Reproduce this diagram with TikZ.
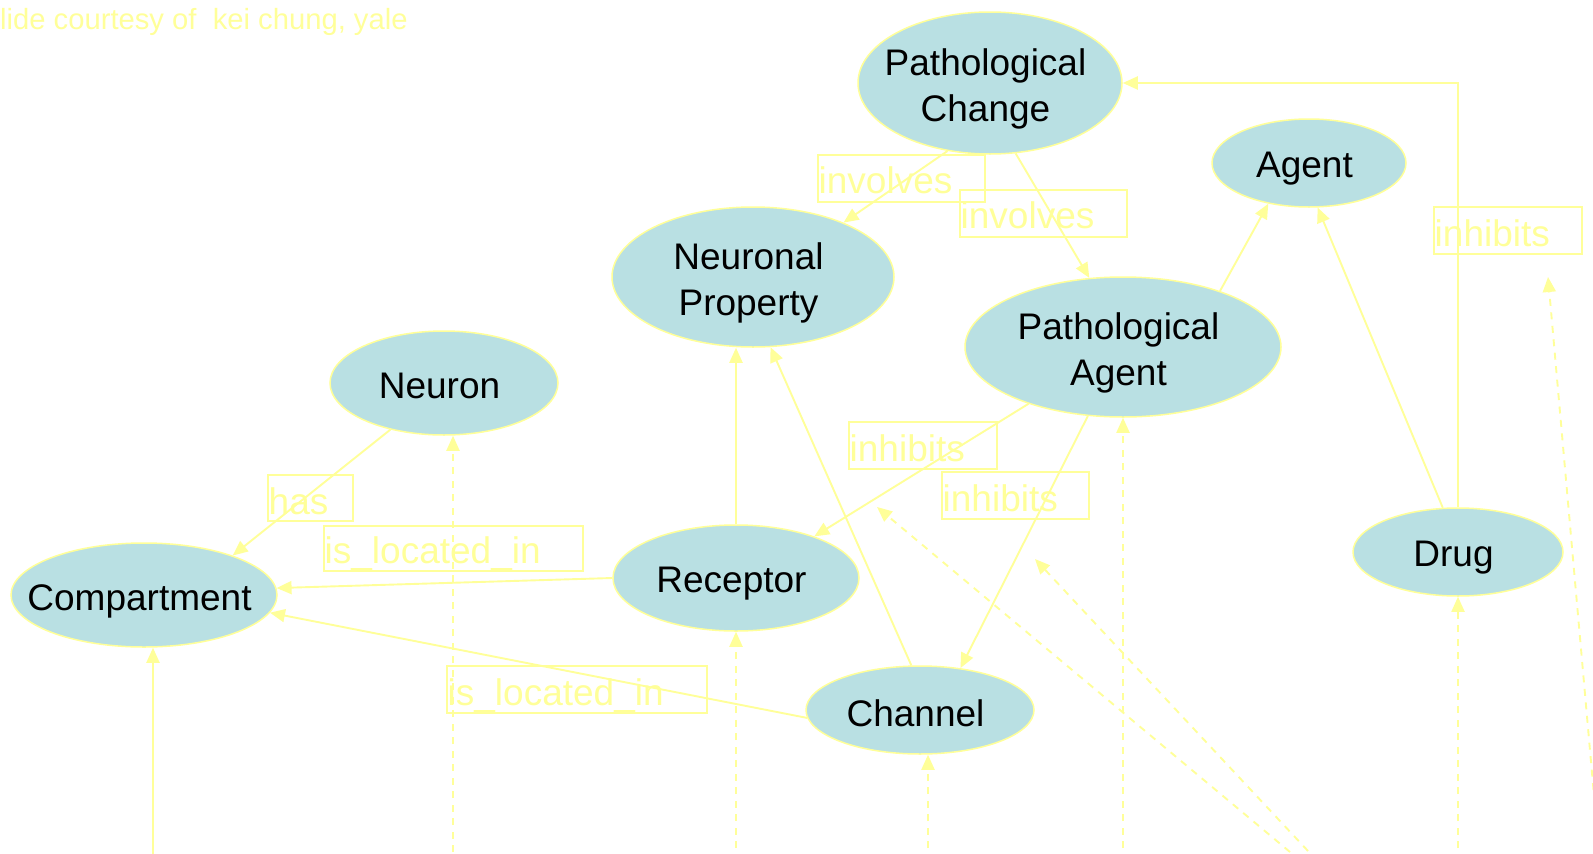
\documentclass[tikz,border=0pt]{standalone}
\usepackage{fontspec}
\setmainfont{Liberation Sans}
\usetikzlibrary{arrows.meta,shapes.geometric,calc}
\definecolor{ellfill}{HTML}{B9E0E3}
\definecolor{yel}{HTML}{FFFF99}
\begin{document}
\begin{tikzpicture}[x=1pt,y=-1pt,
  ell/.style={ellipse, draw=yel, line width=1.5pt, fill=ellfill, inner sep=0pt},
  etxt/.style={font=\fontsize{37}{46}\selectfont, text=black, align=center, inner sep=0pt, xshift=-4.5pt},
  lbox/.style={draw=yel, line width=1.6pt, inner sep=0pt, anchor=north west},
  ltxt/.style={font=\fontsize{37}{44}\selectfont, text=yel, inner sep=0pt, anchor=base west},
  conn/.style={draw=yel, line width=1.9pt, -{Triangle[length=15pt,width=13pt]}},
  dconn/.style={conn, dash pattern=on 7pt off 6.5pt},
]
\fill[white] (0,0) rectangle (1593,854);
\useasboundingbox (0,0) rectangle (1593,854);

% credit
\node[font=\fontsize{29.2}{31}\selectfont, text=yel, anchor=base west, inner sep=0pt] (credit) at (0,29) {lide courtesy of\ \ kei chung, yale};

% ellipses
\node[ell, minimum width=264pt, minimum height=142pt] (PC) at (990,83) {};
\node[etxt, yshift=-6pt] (PCt) at (PC) {Pathological\\Change};
\node[ell, minimum width=194pt, minimum height=88pt] (AG) at (1309,163) {};
\node[etxt, yshift=-6pt] (AGt) at (AG) {Agent};
\node[ell, minimum width=282pt, minimum height=140pt] (NP) at (753,277) {};
\node[etxt, yshift=-6pt] (NPt) at (NP) {Neuronal\\Property};
\node[ell, minimum width=316pt, minimum height=140pt] (PA) at (1123,347) {};
\node[etxt, yshift=-6pt] (PAt) at (PA) {Pathological\\Agent};
\node[ell, minimum width=228pt, minimum height=104pt] (NE) at (444,383) {};
\node[etxt, yshift=-3pt] (NEt) at (NE) {Neuron};
\node[ell, minimum width=266pt, minimum height=104pt] (CO) at (144,595) {};
\node[etxt, yshift=-6pt] (COt) at (CO) {Compartment};
\node[ell, minimum width=246pt, minimum height=106pt] (RE) at (736,578) {};
\node[etxt, yshift=-6pt] (REt) at (RE) {Receptor};
\node[ell, minimum width=228pt, minimum height=88pt] (CH) at (920,710) {};
\node[etxt, yshift=-3pt] (CHt) at (CH) {Channel};
\node[ell, minimum width=210pt, minimum height=88pt] (DR) at (1458,552) {};
\node[etxt, yshift=-6pt] (DRt) at (DR) {Drug};

% connectors
\draw[conn] (PC.238.6) -- (NP.31.4);
\draw[conn] (PC.290.8) -- (PA.116.9);
\draw[conn] (PA.30.3) -- (AG.225);
\draw[conn] (DR.109.9) -- (AG.281.1);
\draw[conn] (DR.north) |- (PC.east);
\draw[conn] (NE.221.5) -- (CO.24.2);
\draw[conn] (RE.west) -- (CO.3);
\draw[conn] (CH.184.6) -- (CO.352);
\draw[conn] (RE.north) -- (RE.north |- NP.south);
\draw[conn] (CH.101.3) -- (NP.284.4);
\draw[conn] (PA.211.2) -- (RE.28.4);
\draw[conn] (PA.243.4) -- (CH.46.8);

% from below
\coordinate (bCO) at (153,854);
\coordinate (bNE) at (453,852);
\coordinate (bRE) at (736,848);
\coordinate (bCH) at (928,848);
\coordinate (bPA) at (1123,848);
\coordinate (bDR) at (1458,848);
\draw[conn] (bCO) -- (bCO |- CO.south);
\draw[dconn] (bNE) -- (bNE |- NE.south);
\draw[dconn] (bRE) -- (bRE |- RE.south);
\draw[dconn] (bCH) -- (bCH |- CH.south);
\draw[dconn] (bPA) -- (bPA |- PA.south);
\draw[dconn] (bDR) -- (bDR |- DR.south);
\coordinate (d1s) at (1290,852); \coordinate (d1e) at (877,507);
\coordinate (d2s) at (1308,851); \coordinate (d2e) at (1035,559);
\coordinate (d3s) at (1593.5,790); \coordinate (d3e) at (1548,277);
\draw[dconn] (d1s) -- (d1e);
\draw[dconn] (d2s) -- (d2e);
\draw[dconn] (d3s) -- (d3e);

% labels
\node[lbox, minimum width=167pt, minimum height=47pt] (Linv1) at (817,154) {};
\node[ltxt] (Linv1t) at ([xshift=1.5pt,yshift=9pt]Linv1.south west) {involves};
\node[lbox, minimum width=167pt, minimum height=47pt] (Linv2) at (959,189) {};
\node[ltxt] (Linv2t) at ([xshift=1.5pt,yshift=9pt]Linv2.south west) {involves};
\node[lbox, minimum width=148pt, minimum height=47pt] (Linh1) at (848,421) {};
\node[ltxt] (Linh1t) at ([xshift=1.5pt,yshift=8pt]Linh1.south west) {inhibits};
\node[lbox, minimum width=147pt, minimum height=47pt] (Linh2) at (941,471) {};
\node[ltxt] (Linh2t) at ([xshift=1.5pt,yshift=8pt]Linh2.south west) {inhibits};
\node[lbox, minimum width=148pt, minimum height=47pt] (Linh3) at (1433,206) {};
\node[ltxt] (Linh3t) at ([xshift=1.5pt,yshift=8pt]Linh3.south west) {inhibits};
\node[lbox, minimum width=85pt, minimum height=46pt] (Lhas) at (267,474) {};
\node[ltxt] (Lhast) at ([xshift=1.5pt,yshift=7pt]Lhas.south west) {has};
\node[lbox, minimum width=259pt, minimum height=45pt] (Lloc1) at (323,525) {};
\node[ltxt] (Lloc1t) at ([xshift=1.5pt,yshift=8.5pt]Lloc1.south west) {is\_located\_in};
\node[lbox, minimum width=260pt, minimum height=47pt] (Lloc2) at (446,665) {};
\node[ltxt] (Lloc2t) at ([xshift=1.5pt,yshift=8.5pt]Lloc2.south west) {is\_located\_in};
\end{tikzpicture}
\end{document}
